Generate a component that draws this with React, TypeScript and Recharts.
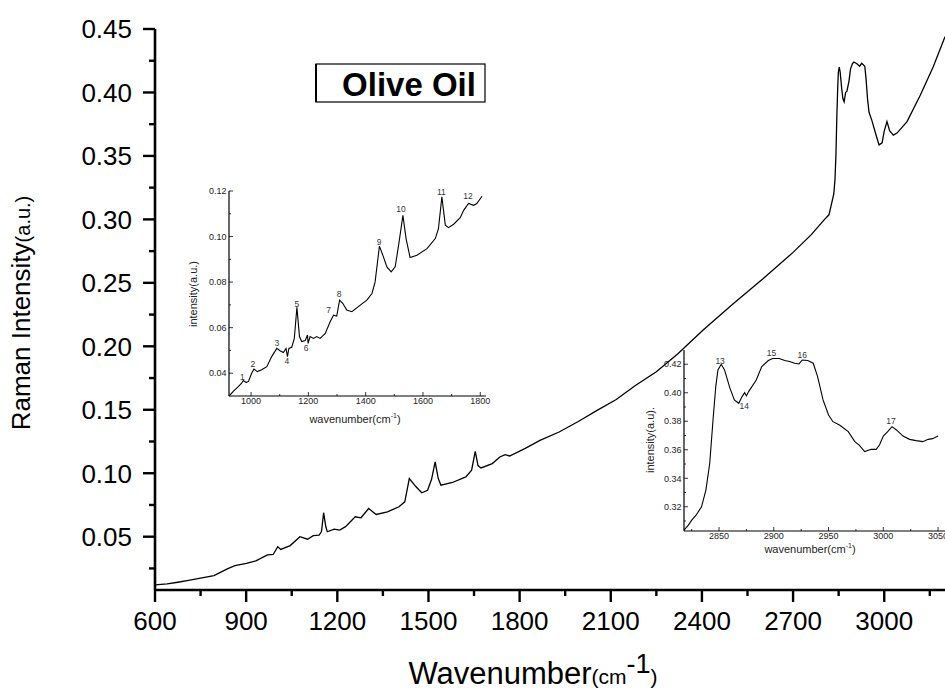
import { ComposedChart, Line, Scatter, XAxis, YAxis } from 'recharts';

const FONT = '"Liberation Sans", Arial, Helvetica, sans-serif';

// full spectrum, 600-3200 cm-1
const mainWavenumbers = [
  600, 640, 675, 710, 750, 794, 838, 863, 901, 932, 970, 989, 1004, 1014, 1045, 1077, 1102,
  1121, 1140, 1148, 1155, 1162, 1167, 1190, 1208, 1227, 1259, 1278, 1303, 1328, 1365, 1403,
  1422, 1437, 1459, 1478, 1497, 1510, 1522, 1532, 1541, 1579, 1623, 1642, 1654, 1663, 1673,
  1710, 1735, 1752, 1767, 1817, 1867, 1930, 1993, 2055, 2118, 2181, 2250, 2320, 2404, 2500,
  2600, 2700, 2760, 2800, 2818, 2825, 2834, 2838, 2841, 2844, 2847, 2849, 2852, 2855, 2860,
  2864, 2868, 2873, 2877, 2884, 2889, 2895, 2900, 2910, 2919, 2926, 2936, 2940, 2945, 2950,
  2960, 2974, 2983, 2993, 3000, 3009, 3018, 3030, 3042, 3075, 3119, 3161, 3200,
];
const mainIntensities = [
  0.012, 0.0128, 0.0141, 0.0155, 0.0173, 0.0194, 0.0246, 0.0272, 0.029, 0.0309, 0.0356, 0.036,
  0.0421, 0.04, 0.043, 0.05, 0.048, 0.0508, 0.0513, 0.054, 0.0689, 0.058, 0.0539, 0.056,
  0.0552, 0.0579, 0.0657, 0.0649, 0.0722, 0.0675, 0.0696, 0.0736, 0.0775, 0.0958, 0.0893,
  0.0846, 0.0866, 0.095, 0.1089, 0.096, 0.0906, 0.0927, 0.0971, 0.1024, 0.1173, 0.106, 0.1042,
  0.1076, 0.1128, 0.1147, 0.1136, 0.1194, 0.1259, 0.1325, 0.1408, 0.1495, 0.1581, 0.1691,
  0.18, 0.194, 0.2129, 0.233, 0.253, 0.274, 0.288, 0.299, 0.3036, 0.3106, 0.32, 0.3317, 0.3505,
  0.3809, 0.4043, 0.416, 0.42, 0.416, 0.4031, 0.395, 0.3926, 0.4001, 0.4008, 0.409, 0.4184,
  0.4226, 0.424, 0.4226, 0.4207, 0.423, 0.4207, 0.4113, 0.395, 0.3844, 0.3774, 0.3657, 0.3587,
  0.3603, 0.3696, 0.377, 0.3696, 0.3664, 0.368, 0.377, 0.398, 0.42, 0.444,
];
const mainXTicks = [600, 750, 900, 1050, 1200, 1350, 1500, 1650, 1800, 1950, 2100, 2250, 2400, 2550, 2700, 2850, 3000, 3150];
const mainYTicks = [0.025, 0.05, 0.075, 0.1, 0.125, 0.15, 0.175, 0.2, 0.225, 0.25, 0.275, 0.3, 0.325, 0.35, 0.375, 0.4, 0.425, 0.45];

// fingerprint region inset
const fingerprintWavenumbers = [
  923, 938, 956, 967, 973, 983, 991, 1002, 1010, 1022, 1037, 1055, 1072, 1090, 1101, 1113, 1122,
  1127, 1132, 1142, 1151, 1160, 1169, 1177, 1189, 1197, 1199, 1206, 1218, 1229, 1241, 1259,
  1276, 1288, 1299, 1309, 1320, 1334, 1352, 1381, 1404, 1422, 1433, 1448, 1462, 1474, 1489,
  1503, 1515, 1530, 1541, 1555, 1579, 1614, 1643, 1654, 1666, 1678, 1689, 1707, 1730, 1742,
  1759, 1777, 1788, 1806,
];
const fingerprintIntensities = [
  0.03, 0.032, 0.0342, 0.0356, 0.0368, 0.0359, 0.0364, 0.04, 0.0418, 0.0407, 0.0415, 0.0429,
  0.0473, 0.0509, 0.0499, 0.0491, 0.0509, 0.0473, 0.0509, 0.0514, 0.0553, 0.0689, 0.0561,
  0.0539, 0.0543, 0.0568, 0.0531, 0.0561, 0.0553, 0.0561, 0.0553, 0.0575, 0.0626, 0.0655,
  0.0651, 0.0721, 0.0707, 0.0677, 0.067, 0.0699, 0.0721, 0.075, 0.0801, 0.0958, 0.0911,
  0.0867, 0.0845, 0.0867, 0.0962, 0.1093, 0.0991, 0.0908, 0.0918, 0.0947, 0.0991, 0.1035,
  0.1174, 0.105, 0.1039, 0.1054, 0.1083, 0.1115, 0.1145, 0.1137, 0.1145, 0.1177,
];
const fingerprintPeakNames = ['1', '2', '3', '4', '5', '6', '7', '8', '9', '10', '11', '12'];
const fingerprintPeakX = [970, 1006, 1090, 1125, 1160, 1192, 1271, 1307, 1447, 1523, 1664, 1757];
const fingerprintPeakY = [0.0382, 0.0441, 0.0531, 0.0454, 0.0704, 0.0509, 0.0677, 0.0747, 0.0977, 0.112, 0.1194, 0.1177];
const fingerprintXTicks = [1000, 1100, 1200, 1300, 1400, 1500, 1600, 1700, 1800];
const fingerprintYTicks = [0.04, 0.05, 0.06, 0.07, 0.08, 0.09, 0.1, 0.11, 0.12];

// C-H stretching region inset
const stretchWavenumbers = [
  2818, 2822, 2825, 2829, 2834, 2838, 2841.5, 2844.5, 2847, 2849, 2852, 2855, 2860, 2864, 2868,
  2871, 2873.4, 2875, 2877, 2884, 2889, 2895, 2899, 2905, 2910, 2914.5, 2919, 2923, 2926, 2931,
  2936, 2940, 2945, 2950, 2954, 2960, 2968, 2974, 2978, 2983, 2989, 2993.5, 2996.5, 3000, 3004,
  3008, 3012, 3018, 3024, 3030, 3036, 3041, 3045, 3050,
];
const stretchIntensities = [
  0.3036, 0.3071, 0.3106, 0.3141, 0.32, 0.3317, 0.3505, 0.3809, 0.4043, 0.416, 0.42, 0.416,
  0.4031, 0.395, 0.3926, 0.3973, 0.4001, 0.3978, 0.4008, 0.409, 0.4184, 0.4226, 0.424, 0.424,
  0.4226, 0.4219, 0.4207, 0.4202, 0.423, 0.4226, 0.4207, 0.4113, 0.395, 0.3844, 0.3797,
  0.3774, 0.3727, 0.3657, 0.3633, 0.3587, 0.3603, 0.3603, 0.3633, 0.3696, 0.3727, 0.3762,
  0.3739, 0.3696, 0.3673, 0.3664, 0.3657, 0.3673, 0.3678, 0.3696,
];
const stretchPeakNames = ['13', '14', '15', '16', '17'];
const stretchPeakX = [2851, 2873, 2898, 2926, 3007];
const stretchPeakY = [0.4226, 0.3907, 0.4282, 0.4266, 0.3804];
const stretchXTicks = [2825, 2850, 2875, 2900, 2925, 2950, 2975, 3000, 3025, 3050];
const stretchYTicks = [0.31, 0.32, 0.33, 0.34, 0.35, 0.36, 0.37, 0.38, 0.39, 0.4, 0.41, 0.42];

const zip = (xs: number[], ys: number[]) => xs.map((w, i) => ({ w, v: ys[i] }));
const labelled = (names: string[], xs: number[], ys: number[]) =>
  names.map((name, i) => ({ w: xs[i], v: ys[i], name }));

const onStep = (v: number, step: number) => Math.abs(v / step - Math.round(v / step)) < 1e-6;

type TickOpts = {
  major: (v: number) => boolean;
  format: (v: number) => string;
  majorLen: number;
  minorLen: number;
  inward: boolean;
  fontSize: number;
  gap: number;
  width: number;
  color: string;
};

function bottomTick(o: TickOpts) {
  return (props: any) => {
    const { x, y, payload } = props;
    const big = o.major(payload.value);
    const len = big ? o.majorLen : o.minorLen;
    const dir = o.inward ? -1 : 1;
    return (
      <g>
        <line x1={x} x2={x} y1={y} y2={y + dir * len} stroke="#000" strokeWidth={o.width} />
        {big && (
          <text x={x} y={y + o.gap + o.fontSize * 0.72} textAnchor="middle" fontSize={o.fontSize} fontFamily={FONT} fill={o.color}>
            {o.format(payload.value)}
          </text>
        )}
      </g>
    );
  };
}

function leftTick(o: TickOpts) {
  return (props: any) => {
    const { x, y, payload } = props;
    const big = o.major(payload.value);
    const len = big ? o.majorLen : o.minorLen;
    const dir = o.inward ? 1 : -1;
    return (
      <g>
        <line x1={x} x2={x + dir * len} y1={y} y2={y} stroke="#000" strokeWidth={o.width} />
        {big && (
          <text x={x - o.gap} y={y + o.fontSize * 0.36} textAnchor="end" fontSize={o.fontSize} fontFamily={FONT} fill={o.color}>
            {o.format(payload.value)}
          </text>
        )}
      </g>
    );
  };
}

const PeakName = (props: any) => (
  <text x={props.cx} y={props.cy + 3} textAnchor="middle" fontSize={8.5} fontFamily={FONT} fill="#333">
    {props.payload.name}
  </text>
);

const mainData = zip(mainWavenumbers, mainIntensities);
const fingerprintData = zip(fingerprintWavenumbers, fingerprintIntensities);
const stretchData = zip(stretchWavenumbers, stretchIntensities);

function Inset(props: {
  left: number; top: number; width: number; height: number;
  margin: { top: number; right: number; left: number; bottom: number };
  yWidth: number; xHeight: number;
  xDomain: [number, number]; yDomain: [number, number];
  xTicks: number[]; yTicks: number[];
  xMajor: number; yMajor: number;
  data: { w: number; v: number }[];
  peaks: { w: number; v: number; name: string }[];
}) {
  const p = props;
  return (
    <div style={{ position: 'absolute', left: p.left, top: p.top }}>
      <ComposedChart width={p.width} height={p.height} data={p.data} margin={p.margin}>
        <XAxis
          type="number" dataKey="w" domain={p.xDomain} ticks={p.xTicks} interval={0}
          height={p.xHeight} tickSize={0} tickMargin={0} tickLine={false}
          axisLine={{ stroke: '#000', strokeWidth: 1.2 }}
          tick={bottomTick({ major: (v) => onStep(v, p.xMajor), format: (v) => String(v), majorLen: 4, minorLen: 2, inward: true, fontSize: 9, gap: 1.5, width: 0.8, color: '#222' })}
        />
        <YAxis
          type="number" domain={p.yDomain} ticks={p.yTicks} interval={0}
          width={p.yWidth} tickSize={0} tickMargin={0} tickLine={false}
          axisLine={{ stroke: '#000', strokeWidth: 1.2 }}
          tick={leftTick({ major: (v) => onStep(v, p.yMajor), format: (v) => v.toFixed(2), majorLen: 4, minorLen: 2, inward: true, fontSize: 9, gap: 2.5, width: 0.8, color: '#222' })}
        />
        <Line type="linear" dataKey="v" stroke="#000" strokeWidth={1.1} dot={false} isAnimationActive={false} />
        <Scatter data={p.peaks} dataKey="v" shape={PeakName} isAnimationActive={false} />
      </ComposedChart>
    </div>
  );
}

export default function App() {
  return (
    <div style={{ position: 'absolute', left: 0, top: 0, width: 945, height: 693, overflow: 'hidden', background: '#fff' }}>
      <div style={{ position: 'absolute', left: 0, top: 0 }}>
        <ComposedChart width={945} height={693} data={mainData} margin={{ top: 29, right: 0, bottom: 0, left: 0 }}>
          <XAxis
            type="number" dataKey="w" domain={[600, 3200]} ticks={mainXTicks} interval={0}
            height={103} tickSize={0} tickMargin={0} tickLine={false}
            axisLine={{ stroke: '#000', strokeWidth: 2.6 }}
            tick={bottomTick({ major: (v) => onStep(v, 300), format: (v) => String(v), majorLen: 12, minorLen: 6, inward: false, fontSize: 26, gap: 21, width: 2.4, color: '#000' })}
          />
          <YAxis
            type="number" domain={[0.008, 0.45]} ticks={mainYTicks} interval={0}
            width={155} tickSize={0} tickMargin={0} tickLine={false}
            axisLine={{ stroke: '#000', strokeWidth: 2.6 }}
            tick={leftTick({ major: (v) => onStep(v, 0.05), format: (v) => v.toFixed(2), majorLen: 12, minorLen: 6, inward: false, fontSize: 26, gap: 23, width: 2.4, color: '#000' })}
          />
          <Line type="linear" dataKey="v" stroke="#000" strokeWidth={1.3} dot={false} isAnimationActive={false} />
        </ComposedChart>
      </div>

      <Inset
        left={187} top={185} width={309} height={245}
        margin={{ top: 6, right: 10, left: 0, bottom: 0 }} yWidth={42} xHeight={34}
        xDomain={[923, 1820]} yDomain={[0.03, 0.12]}
        xTicks={fingerprintXTicks} yTicks={fingerprintYTicks} xMajor={200} yMajor={0.02}
        data={fingerprintData} peaks={labelled(fingerprintPeakNames, fingerprintPeakX, fingerprintPeakY)}
      />
      <Inset
        left={644} top={345} width={310} height={218}
        margin={{ top: 5, right: 5, left: 0, bottom: 0 }} yWidth={40} xHeight={32}
        xDomain={[2818, 3060]} yDomain={[0.303, 0.43]}
        xTicks={stretchXTicks} yTicks={stretchYTicks} xMajor={50} yMajor={0.02}
        data={stretchData} peaks={labelled(stretchPeakNames, stretchPeakX, stretchPeakY)}
      />

      <svg width={945} height={693} style={{ position: 'absolute', left: 0, top: 0, pointerEvents: 'none' }} fontFamily={FONT}>
        <text transform="translate(30,313) rotate(-90)" textAnchor="middle" fill="#000">
          <tspan fontSize={26}>Raman Intensity</tspan>
          <tspan fontSize={20}>(a.u.)</tspan>
        </text>
        <text x={533} y={684} textAnchor="middle" fill="#000">
          <tspan fontSize={31}>Wavenumber</tspan>
          <tspan fontSize={21}>(cm</tspan>
          <tspan fontSize={27} dy={-11}>-1</tspan>
          <tspan fontSize={21} dy={11}>)</tspan>
        </text>

        <rect x={316} y={64} width={169} height={38} fill="none" stroke="#000" strokeWidth={1.2} />
        <line x1={316} x2={316} y1={64} y2={102} stroke="#000" strokeWidth={2} />
        <text x={409} y={96} textAnchor="middle" fontSize={33} fontWeight="bold" fill="#000">Olive Oil</text>

        <text transform="translate(197,294) rotate(-90)" textAnchor="middle" fontSize={11} fill="#222">intensity(a.u.)</text>
        <text x={355} y={423} textAnchor="middle" fontSize={11} fill="#222">
          wavenumber(cm<tspan fontSize={7} dy={-5}>-1</tspan><tspan dy={5}>)</tspan>
        </text>
        <text transform="translate(654,440) rotate(-90)" textAnchor="middle" fontSize={11} fill="#222">intensity(a.u).</text>
        <text x={810} y={553} textAnchor="middle" fontSize={11} fill="#222">
          wavenumber(cm<tspan fontSize={7} dy={-5}>-1</tspan><tspan dy={5}>)</tspan>
        </text>
      </svg>
    </div>
  );
}
